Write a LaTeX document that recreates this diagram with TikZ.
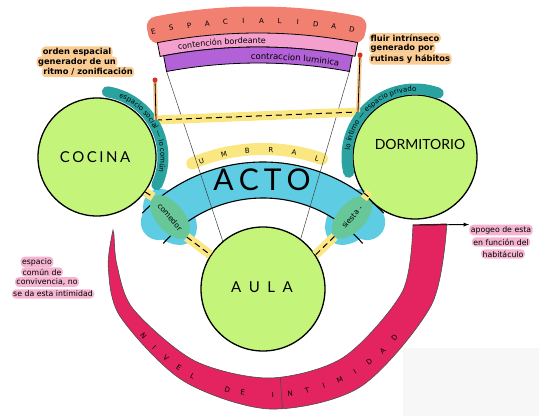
\documentclass[tikz,border=0pt]{standalone}
\usepackage{fontspec}
\setmainfont{Lato}
\newfontfamily\notafont{DejaVu Sans}
\usetikzlibrary{shapes.geometric, decorations.text}

\definecolor{lima}{RGB}{196,245,122}
\definecolor{cian}{RGB}{94,205,228}
\definecolor{verdeovalo}{RGB}{104,199,152}
\definecolor{turquesa}{RGB}{42,163,160}
\definecolor{amarillo}{RGB}{250,231,130}
\definecolor{salmon}{RGB}{241,128,113}
\definecolor{rosabanda}{RGB}{243,160,206}
\definecolor{morado}{RGB}{178,98,214}
\definecolor{naranja}{RGB}{250,204,148}
\definecolor{rosanota}{RGB}{245,180,208}
\definecolor{carmin}{RGB}{228,36,96}
\definecolor{rojo}{RGB}{222,45,35}

\tikzset{
	espacio/.style = {circle, draw = black, line width = 1.3pt, fill = lima, minimum size = 124pt, inner sep = 0pt},
	nombre/.style = {inner sep = 0pt, font = \fontsize{15}{15}\selectfont},
	ovalo/.style = {ellipse, fill = verdeovalo, minimum width = 52pt, minimum height = 28pt, inner sep = 0pt, font = \notafont\fontsize{7.5}{8}\selectfont},
	puente/.style = {draw = black, line width = 1pt, dash pattern = on 6pt off 4pt, preaction = {draw = amarillo, line width = 9pt, solid}},
	hilo/.style = {draw = black, line width = 0.8pt, preaction = {draw = naranja, line width = 4pt}},
	notan/.style = {fill = naranja, rounded corners = 4pt, inner sep = 1.5pt, font = \notafont\fontsize{8.3}{9}\selectfont\bfseries},
	notar/.style = {fill = rosanota, rounded corners = 4pt, inner sep = 1.5pt, font = \notafont\fontsize{7.8}{9}\selectfont},
	letra/.style = {inner sep = 0pt, font = \notafont\fontsize{7}{7}\selectfont}
}

\begin{document}
\begin{tikzpicture}[x = 1pt, y = 1pt]
	\useasboundingbox (0,0) rectangle (539,416);
	\fill[black!3] (403,0) rectangle (539,68);

	\begin{scope}[shift = {(258,-144)}]
		\fill[salmon, rounded corners = 10pt] (101.8:526) arc[start angle = 101.8, end angle = 78.5, radius = 526] -- (78.5:553) arc[start angle = 78.5, end angle = 101.8, radius = 553] -- cycle;
		\filldraw[fill = rosabanda, draw = black, line width = 0.8pt] (101:513) arc[start angle = 101, end angle = 79.1, radius = 513] -- (79.1:527) arc[start angle = 79.1, end angle = 101, radius = 527] -- cycle;
		\filldraw[fill = morado, draw = black, line width = 0.8pt] (100.6:497) arc[start angle = 100.6, end angle = 79.4, radius = 497] -- (79.4:513) arc[start angle = 79.4, end angle = 100.6, radius = 513] -- cycle;
		\coordinate (moradoizq) at (100.6:497);
		\coordinate (moradoder) at (79.4:497);
		\foreach \l [count = \i] in {E,S,P,A,C,I,A,L,I,D,A,D}
			\node[letra, rotate = {11.2-1.93*(\i-1)}] (espacialidad\i) at ({101.2-1.93*(\i-1)}:539) {\l};
		\path[decorate, decoration = {text along path, text align = center, text = {|\notafont\fontsize{8}{8}\selectfont|contención bordeante}}] (101:516.5) arc[start angle = 101, end angle = 87, radius = 516.5];
		\path[decorate, decoration = {text along path, text align = center, text = {|\notafont\fontsize{8.5}{8.5}\selectfont|contraccion luminica}}] (93:500.5) arc[start angle = 93, end angle = 78.5, radius = 500.5];
	\end{scope}

	\begin{scope}[shift = {(270,186)}]
		\filldraw[fill = carmin, draw = black!70, line width = 0.6pt] plot[smooth] coordinates {(180:157) (193:166) (210:173) (240:174) (270:179) (300:181) (335:178) (362:177)} -- plot[smooth] coordinates {(362:143) (335:146) (300:147) (270:148) (240:151) (210:158) (193:157) (182:156)} -- cycle;
		\draw[black!70, line width = 0.6pt] (274:148) -- (274:179);
		\coordinate (nivelfin) at (362:143);
		\foreach \a/\l [count = \i] in {220/N, 225.5/I, 231/V, 236.5/E, 242/L, 255/D, 260.5/E, 271/I, 277/N, 283/T, 289/I, 295/M, 301/I, 307/D, 313/A, 319/D}
			\node[letra, rotate = \a+90] (nivel\i) at (\a:165) {\l};
	\end{scope}

	\begin{scope}[shift = {(263,86)}]
		\draw[amarillo, line width = 12pt, line cap = round] (113:181) arc[start angle = 113, end angle = 71, radius = 181];
		\foreach \a/\l [count = \i] in {110/U, 102.5/M, 95/B, 87.5/R, 80/A, 72.5/L}
			\node[letra, rotate = \a-90] (umbral\i) at (\a:180) {\l};
		\draw[cian, line width = 36pt, line cap = round] (134:150) arc[start angle = 134, end angle = 46, radius = 150];
		\fill[cian, rotate around = {-48:(-93,113)}] (-93,113) ellipse[x radius = 32, y radius = 22];
		\fill[cian, rotate around = {48:(89,113)}] (89,113) ellipse[x radius = 32, y radius = 22];
		\draw[line width = 1.1pt] (136:168) arc[start angle = 136, end angle = 44, radius = 168];
		\draw[line width = 1.1pt] (139:132) arc[start angle = 139, end angle = 41, radius = 132];
		\node[ovalo, rotate = -50] (comedor) at (-93,113) {comedor};
		\node[ovalo, rotate = 48] (siesta) at (89,113) {siesta -};
		\node[font = \fontsize{30}{30}\selectfont] (acto) at (-1,150) {A\,C\,T\,O};
	\end{scope}

	\node[espacio, minimum size = 118pt] (cocina) at (97,259) {};
	\node[espacio] (dormitorio) at (415,259) {};
	\node[espacio] (aula) at (263,127) {};
	\node[nombre] (cocinatxt) at (95,259) {C\,O\,C\,I\,N\,A};
	\node[nombre, font = \fontsize{14}{14}\selectfont] (dormitoriotxt) at (420,272) {DORMITORIO};
	\node[nombre] (aulatxt) at (262,129) {A\enspace U\enspace L\enspace A};

	\draw[black!75, line width = 0.5pt] (moradoizq) -- (aula.130);
	\draw[black!75, line width = 0.5pt] (moradoder) -- (aula.53);

	\coordinate (ritmopie) at (156,296);
	\coordinate (fluirpie) at (358,304);
	\coordinate (ritmopunto) at (155,336);
	\coordinate (fluirpunto) at (360,361);
	\draw[puente] (ritmopie) -- (fluirpie);
	\draw[puente] (cocina.-36) -- (comedor.west);
	\draw[puente] (comedor.east) -- (aula.147);
	\draw[puente] (siesta.west) -- (aula.33);
	\draw[puente] (dormitorio.215) -- (siesta.east);

	\draw[turquesa, line width = 11pt, line cap = round] (cocina.center) ++(81:66) arc[start angle = 81, end angle = -25, radius = 66];
	\path[decorate, decoration = {text along path, text align = center, text = {|\notafont\fontsize{7}{7}\selectfont|espacio social — lo común}}] (cocina.center) ++(81:63.5) arc[start angle = 81, end angle = -25, radius = 63.5];
	\draw[turquesa, line width = 11pt, line cap = round] (dormitorio.center) ++(193:68) arc[start angle = 193, end angle = 70, radius = 68];
	\path[decorate, decoration = {text along path, text align = center, text = {|\notafont\fontsize{7}{7}\selectfont|lo íntimo — espacio privado}}] (dormitorio.center) ++(193:65.5) arc[start angle = 193, end angle = 70, radius = 65.5];

	\draw[hilo] (ritmopunto) -- (ritmopie);
	\draw[hilo] (fluirpunto) -- (fluirpie);
	\fill[rojo] (ritmopunto) circle[radius = 2.5];
	\fill[rojo] (fluirpunto) circle[radius = 2.5];

	\node[notan] (orden1) at (77,364) {orden espacial};
	\node[notan] (orden2) at (77,354) {generador de un};
	\node[notan] (orden3) at (88,344) {ritmo / zonificación};
	\node[notan, anchor = west] (fluir1) at (369,378) {fluir intrínseco};
	\node[notan, anchor = west] (fluir2) at (369,368) {generado por};
	\node[notan, anchor = west] (fluir3) at (369,357) {rutinas y hábitos};

	\node[notar] (comun1) at (37,154) {espacio};
	\node[notar] (comun2) at (42,144) {común de};
	\node[notar] (comun3) at (47,134) {convivencia, no};
	\node[notar] (comun4) at (53,122) {se da esta intimidad};
	\node[notar] (apogeo1) at (501,186) {apogeo de esta};
	\node[notar] (apogeo2) at (501,174) {en función del};
	\node[notar] (apogeo3) at (503,162) {habitáculo};

	\draw[-latex, line width = 0.9pt] (nivelfin) -- (apogeo1.north west);
\end{tikzpicture}
\end{document}
